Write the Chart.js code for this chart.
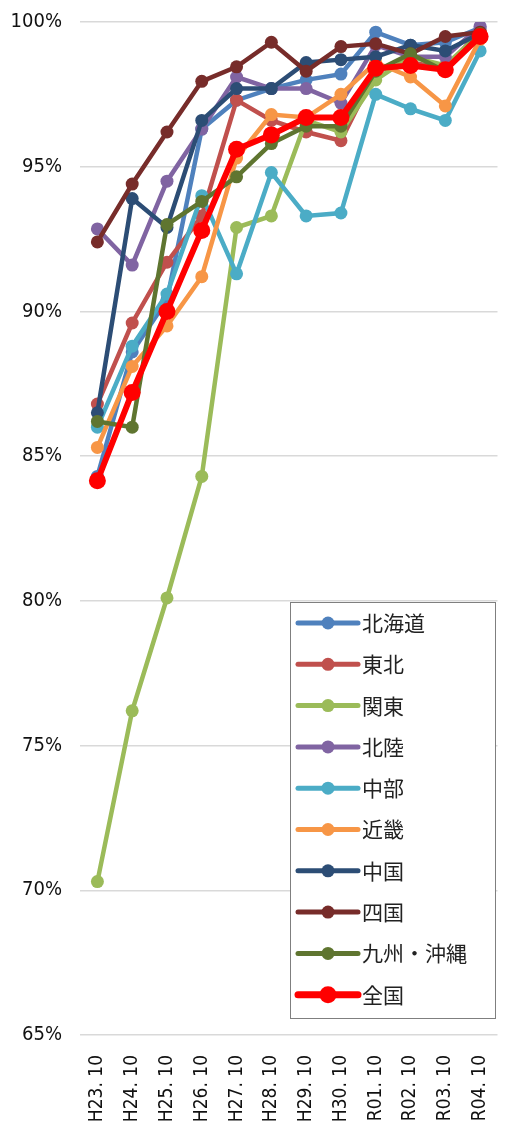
<!DOCTYPE html>
<html lang="ja">
<head>
<meta charset="UTF-8">
<title>地域別推移</title>
<script src="https://cdn.jsdelivr.net/npm/chart.js"></script>
<style>
  html, body { margin: 0; padding: 0; background: #fff; }
  #wrap { width: 506px; height: 1136px; position: relative; }
</style>
</head>
<body>
<div id="wrap"><canvas id="regionChart"></canvas></div>
<script>
// 年度ラベル
var periods = ['H23. 10', 'H24. 10', 'H25. 10', 'H26. 10', 'H27. 10', 'H28. 10',
               'H29. 10', 'H30. 10', 'R01. 10', 'R02. 10', 'R03. 10', 'R04. 10'];

var hokkaido = [84.3, 88.6, 90.4, 96.3, 97.3, 97.7, 98.0, 98.2, 99.65, 99.2, 99.3, 99.8];
var tohoku   = [86.8, 89.6, 91.7, 93.3, 97.3, 96.6, 96.2, 95.9, 98.3, 98.6, 98.4, 99.7];
var kanto    = [70.3, 76.2, 80.1, 84.3, 92.9, 93.3, 96.6, 96.2, 98.0, 98.8, 98.5, 99.6];
var hokuriku = [92.85, 91.6, 94.5, 96.3, 98.1, 97.7, 97.7, 97.2, 99.2, 98.8, 98.8, 99.85];
var chubu    = [86.0, 88.8, 90.6, 94.0, 91.3, 94.8, 93.3, 93.4, 97.5, 97.0, 96.6, 99.0];
var kinki    = [85.3, 88.1, 89.5, 91.2, 95.3, 96.8, 96.7, 97.5, 98.6, 98.1, 97.1, 99.4];
var chugoku  = [86.5, 93.9, 92.9, 96.6, 97.7, 97.7, 98.6, 98.7, 98.8, 99.2, 99.0, 99.6];
var shikoku  = [92.4, 94.4, 96.2, 97.95, 98.45, 99.3, 98.3, 99.15, 99.25, 98.9, 99.5, 99.65];
var kyushu   = [86.2, 86.0, 93.0, 93.8, 94.65, 95.8, 96.4, 96.4, 98.3, 98.9, 98.3, 99.6];
var zenkoku  = [84.15, 87.2, 90.0, 92.8, 95.6, 96.1, 96.7, 96.7, 98.4, 98.5, 98.35, 99.5];

var yTicks = [65, 70, 75, 80, 85, 90, 95, 100];

var seriesNames  = ['北海道', '東北', '関東', '北陸', '中部', '近畿', '中国', '四国', '九州・沖縄', '全国'];
var seriesValues = [hokkaido, tohoku, kanto, hokuriku, chubu, kinki, chugoku, shikoku, kyushu, zenkoku];
var seriesColors = ['#4F81BD', '#C0504D', '#9BBB59', '#8064A2', '#4BACC6',
                    '#F79646', '#2C4D75', '#772C2A', '#5F7530', '#FF0000'];

var tickFont = '"Liberation Sans Narrow", "DejaVu Sans Condensed", sans-serif';

var datasets = seriesNames.map(function (name, i) {
    var isTotal = (name === '全国');
    return {
        label: name,
        data: seriesValues[i],
        borderColor: seriesColors[i],
        backgroundColor: seriesColors[i],
        borderWidth: isTotal ? 6 : 4.5,
        pointRadius: isTotal ? 8.5 : 6.5,
        pointHoverRadius: isTotal ? 8.5 : 6.5,
        pointBorderWidth: 0,
        tension: 0,
        fill: false,
        // later series sit on top, 全国 above everything
        order: isTotal ? 0 : seriesNames.length - 1 - i
    };
});

// legend box drawn inside the plot, lower right
var boxLegend = {
    id: 'boxLegend',
    afterDraw: function (chart) {
        var ctx = chart.ctx;
        var x0 = 290, y0 = 602, w = 205, h = 416;
        ctx.save();
        ctx.fillStyle = '#ffffff';
        ctx.fillRect(x0, y0, w, h);
        ctx.strokeStyle = '#7f7f7f';
        ctx.lineWidth = 1;
        ctx.strokeRect(x0 + 0.5, y0 + 0.5, w, h);
        ctx.font = '21px "Noto Sans CJK JP", sans-serif';
        ctx.textBaseline = 'middle';
        chart.data.datasets.forEach(function (ds, i) {
            var cy = y0 + 21 + i * 41.3;
            ctx.strokeStyle = ds.borderColor;
            ctx.lineWidth = ds.borderWidth + (ds.label === '全国' ? 1 : 0.5);
            ctx.lineCap = 'round';
            ctx.beginPath();
            ctx.moveTo(x0 + 8, cy);
            ctx.lineTo(x0 + 68, cy);
            ctx.stroke();
            ctx.fillStyle = ds.borderColor;
            ctx.beginPath();
            ctx.arc(x0 + 38, cy, ds.pointRadius, 0, Math.PI * 2);
            ctx.fill();
            ctx.fillStyle = '#222222';
            ctx.fillText(ds.label, x0 + 72, cy);
        });
        ctx.restore();
    }
};

var ctxRegion = document.getElementById('regionChart').getContext('2d');
var regionChart = new Chart(ctxRegion, {
    type: 'line',
    data: { labels: periods, datasets: datasets },
    options: {
        responsive: true,
        maintainAspectRatio: false,
        animation: false,
        layout: { padding: { top: 22, right: 6, left: 0, bottom: 0 } },
        plugins: {
            legend: { display: false },
            tooltip: { enabled: false }
        },
        scales: {
            x: {
                offset: true,
                grid: { display: false },
                border: { display: false },
                afterFit: function (axis) {
                    axis.height = 101;
                    axis.paddingLeft = 0;
                    axis.paddingRight = 0;
                },
                ticks: {
                    maxRotation: 90,
                    minRotation: 90,
                    autoSkip: false,
                    padding: 12,
                    color: '#111',
                    font: { family: tickFont, size: 19 }
                }
            },
            y: {
                min: 65,
                max: 100,
                afterBuildTicks: function (axis) {
                    axis.ticks = yTicks.map(function (v) { return { value: v }; });
                },
                afterFit: function (axis) {
                    axis.width = 80;
                    axis.paddingTop = 0;
                    axis.paddingBottom = 0;
                },
                grid: { color: '#d9d9d9', lineWidth: 1.5, drawTicks: false },
                border: { display: false },
                ticks: {
                    padding: 18,
                    color: '#111',
                    font: { family: tickFont, size: 20 },
                    callback: function (v) { return v + '%'; }
                }
            }
        }
    },
    plugins: [boxLegend]
});
</script>
</body>
</html>
